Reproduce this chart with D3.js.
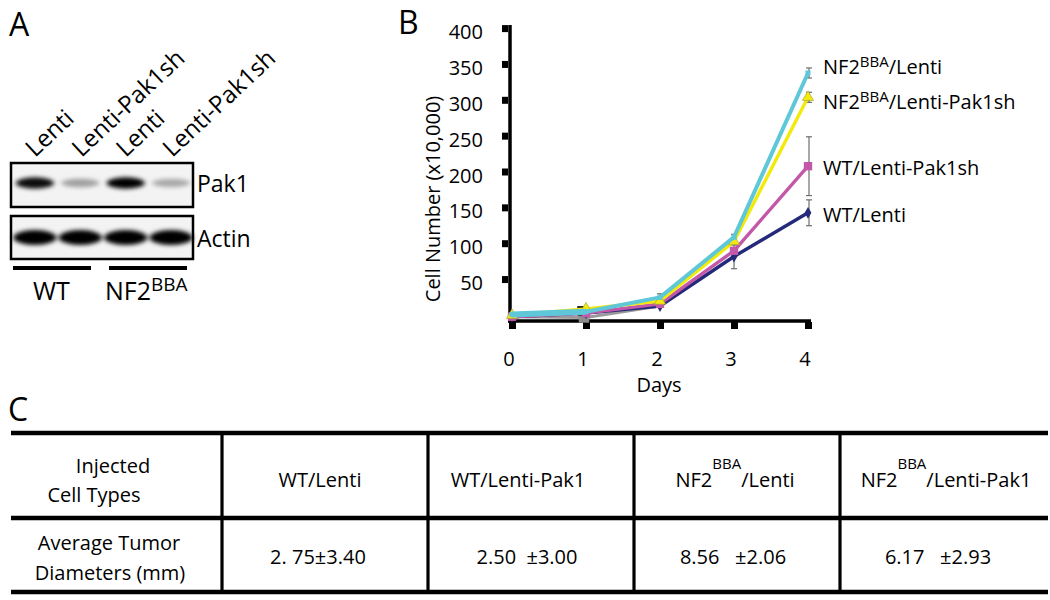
<!DOCTYPE html>
<html>
<head>
<meta charset="utf-8">
<script src="https://cdn.jsdelivr.net/npm/d3@7"></script>
<style>
  html, body { margin: 0; padding: 0; background: #fff; }
  svg { display: block; font-family: "Open Sans", "Noto Sans", sans-serif; }
</style>
</head>
<body>
<svg id="fig" width="1050" height="600"></svg>
<script>
// ---------------- DATA ----------------
// Panel A: western blot
const blotLanes = ["Lenti", "Lenti-Pak1sh", "Lenti", "Lenti-Pak1sh"];
const pak1Intensity = [0.95, 0.34, 1.0, 0.3];
const actinIntensity = [1.0, 1.0, 1.0, 1.0];
const blotRows = ["Pak1", "Actin"];
const blotGroups = ["WT", "NF2"];

// Panel B: growth curves
const days = [0, 1, 2, 3, 4];
const yTicks = [50, 100, 150, 200, 250, 300, 350, 400];
const seriesNames = ["WT/Lenti", "WT/Lenti-Pak1sh", "NF2BBA/Lenti-Pak1sh", "NF2BBA/Lenti"];
const wtLenti = [3, 8, 18, 87, 148];
const wtLentiErr = [1, 1, 2, 17, 18];
const wtPak1sh = [3, 8, 21, 95, 213];
const wtPak1shErr = [1, 1, 2, 4, 41];
const nf2Pak1sh = [5, 14, 25, 108, 309];
const nf2Pak1shErr = [1, 1, 2, 5, 7];
const nf2Lenti = [6, 10, 30, 114, 343];
const nf2LentiErr = [1, 1, 5, 4, 7];
const greyDays = [0, 1, 2];
const greyValues = [3, 2, 18];

// Panel C: table
const tableHeaders = ["WT/Lenti", "WT/Lenti-Pak1", "NF2|BBA|/Lenti", "NF2|BBA|/Lenti-Pak1"];
const tableValues = ["2. 75\u00b13.40", "2.50  \u00b13.00", "8.56   \u00b12.06", "6.17   \u00b12.93"];
const rowLabels = [["Injected", "Cell Types"], ["Average Tumor", "Diameters (mm)"]];

// ---------------- DRAW ----------------
const svg = d3.select("#fig");
const defs = svg.append("defs");
defs.append("filter").attr("id", "blur").attr("x", "-30%").attr("y", "-60%").attr("width", "160%").attr("height", "220%")
  .append("feGaussianBlur").attr("stdDeviation", "2.4 2.0");

// Panel letters
svg.append("text").attr("x", 9).attr("y", 36).attr("font-size", 32).text("A");
svg.append("text").attr("x", 398).attr("y", 34).attr("font-size", 32).text("B");
svg.append("text").attr("x", 8).attr("y", 421).attr("font-size", 32).text("C");

// ---- Panel A ----
const laneX = d3.scaleBand().domain(d3.range(blotLanes.length)).range([14, 192]).paddingInner(0.08);
const gA = svg.append("g");
// rotated lane labels
blotLanes.forEach((l, i) => {
  const x0 = laneX(i) + 21 + (i % 2 === 1 ? 1 : 0);
  gA.append("text")
    .attr("transform", `translate(${x0},158) rotate(-43)`)
    .attr("font-size", 24).text(l);
});
// boxes
const boxes = [{y: 163, h: 44, row: 0}, {y: 216, h: 43, row: 1}];
boxes.forEach(b => {
  gA.append("rect").attr("x", 11).attr("y", b.y).attr("width", 182).attr("height", b.h)
    .attr("fill", "#f3f3f3").attr("stroke", "#000").attr("stroke-width", 2.5);
});
const bandG = gA.append("g").attr("filter", "url(#blur)");
pak1Intensity.forEach((v, i) => {
  const cx = laneX(i) + laneX.bandwidth() / 2;
  bandG.append("ellipse").attr("cx", cx).attr("cy", 183).attr("rx", 19).attr("ry", v > 0.5 ? 5.8 : 4.2)
    .attr("fill", "#050505").attr("opacity", v);
});
actinIntensity.forEach((v, i) => {
  const cx = laneX(i) + laneX.bandwidth() / 2;
  bandG.append("ellipse").attr("cx", cx).attr("cy", 237.5).attr("rx", 21.5).attr("ry", 7.5)
    .attr("fill", "#030303").attr("opacity", v);
});
gA.append("text").attr("x", 197).attr("y", 192).attr("font-size", 23).text(blotRows[0]);
gA.append("text").attr("x", 197).attr("y", 247).attr("font-size", 23).text(blotRows[1]);
// group bars
gA.append("rect").attr("x", 13).attr("y", 266).attr("width", 78).attr("height", 4).attr("fill", "#000");
gA.append("rect").attr("x", 109).attr("y", 266).attr("width", 78).attr("height", 4).attr("fill", "#000");
gA.append("text").attr("x", 33).attr("y", 300).attr("font-size", 25).text(blotGroups[0]);
const nfA = gA.append("text").attr("x", 105).attr("y", 300).attr("font-size", 25);
nfA.append("tspan").text(blotGroups[1]);
nfA.append("tspan").attr("dy", -9).attr("font-size", 19).text("BBA");

// ---- Panel B ----
const x = d3.scaleLinear().domain([0, 4]).range([512, 808]);
const y = d3.scaleLinear().domain([0, 400]).range([318.9, 32.1]);
const gB = svg.append("g");

// axes
gB.append("line").attr("x1", 510).attr("x2", 510).attr("y1", 25).attr("y2", 323).attr("stroke", "#000").attr("stroke-width", 3.5);
gB.append("line").attr("x1", 508).attr("x2", 811).attr("y1", 321).attr("y2", 321).attr("stroke", "#000").attr("stroke-width", 3.5);
gB.selectAll(".yt").data(yTicks).join("rect").attr("class", "yt")
  .attr("x", 502).attr("y", d => y(d) - 7).attr("width", 6).attr("height", 7).attr("fill", "#000");
gB.selectAll(".ytl").data(yTicks).join("text").attr("class", "ytl")
  .attr("x", 483).attr("y", d => y(d) + 7).attr("text-anchor", "end").attr("font-size", 20).text(d => d);
gB.selectAll(".xt").data(days).join("rect").attr("class", "xt")
  .attr("x", d => x(d) - 3).attr("y", 322).attr("width", 7).attr("height", 7).attr("fill", "#000");
gB.selectAll(".xtl").data(days).join("text").attr("class", "xtl")
  .attr("x", d => x(d) - 3).attr("y", 366).attr("text-anchor", "middle").attr("font-size", 20).text(d => d);
gB.append("text").attr("x", 659).attr("y", 392).attr("text-anchor", "middle").attr("font-size", 20).text("Days");
gB.append("text").attr("transform", "translate(440,199) rotate(-90)").attr("text-anchor", "middle")
  .attr("font-size", 20).text("Cell Number (x10,000)");

// series
const series = [
  {name: seriesNames[0], vals: wtLenti, err: wtLentiErr, color: "#25297a", sym: d3.symbolDiamond, size: 40},
  {name: seriesNames[1], vals: wtPak1sh, err: wtPak1shErr, color: "#c357a8", sym: d3.symbolSquare, size: 70},
  {name: seriesNames[2], vals: nf2Pak1sh, err: nf2Pak1shErr, color: "#f3ea0c", sym: d3.symbolTriangle, size: 55},
  {name: seriesNames[3], vals: nf2Lenti, err: nf2LentiErr, color: "#5ec7d8", sym: d3.symbolSquare, size: 25}
];
const line = d3.line().x(d => x(d[0])).y(d => y(d[1]));

// grey underlying series
gB.append("path").datum(greyDays.map((d, i) => [d, greyValues[i]])).attr("d", line)
  .attr("fill", "none").attr("stroke", "#9a9a9a").attr("stroke-width", 3);
gB.append("path").attr("d", d3.symbol(d3.symbolSquare, 110)()).attr("transform", `translate(${x(1) - 2},${y(greyValues[1])})`).attr("fill", "#8d8d8d");
gB.append("path").attr("d", d3.symbol(d3.symbolSquare, 90)()).attr("transform", `translate(${x(1) - 4},${y(nf2Pak1sh[1]) + 2})`).attr("fill", "#111");

// error bars
const errG = gB.append("g").attr("stroke", "#6e6e6e").attr("stroke-width", 1.2);
series.forEach(s => {
  days.forEach((d, i) => {
    const e = s.err[i];
    if (e < 3) return;
    const cx = x(d) + (d === 4 ? 1 : 0);
    errG.append("line").attr("x1", cx).attr("x2", cx).attr("y1", y(s.vals[i] + e)).attr("y2", y(s.vals[i] - e));
    errG.append("line").attr("x1", cx - 3).attr("x2", cx + 3).attr("y1", y(s.vals[i] + e)).attr("y2", y(s.vals[i] + e));
    errG.append("line").attr("x1", cx - 3).attr("x2", cx + 3).attr("y1", y(s.vals[i] - e)).attr("y2", y(s.vals[i] - e));
  });
});

series.forEach((s, si) => {
  const pts = days.map((d, i) => [d, s.vals[i]]);
  gB.append("path").datum(pts).attr("d", line).attr("fill", "none")
    .attr("stroke", s.color).attr("stroke-width", si === 3 ? 4 : 3.4).attr("stroke-linejoin", "round");
  gB.selectAll(null).data(pts).join("path")
    .attr("d", d3.symbol(s.sym, s.size)())
    .attr("transform", d => `translate(${x(d[0])},${y(d[1])})`)
    .attr("fill", s.color)
    .attr("stroke", si === 2 ? "#9a9a40" : "none").attr("stroke-width", 0.6);
});
// thick cyan band over first segment
gB.append("path").datum([[0, nf2Lenti[0]], [1, nf2Lenti[1]]]).attr("d", line)
  .attr("fill", "none").attr("stroke", "#5ec7d8").attr("stroke-width", 6);

// series labels
const labelPos = [{i: 3, y: 74}, {i: 2, y: 109}, {i: 1, y: 175}, {i: 0, y: 222}];
labelPos.forEach(lp => {
  const name = seriesNames[lp.i];
  const t = gB.append("text").attr("x", 823).attr("y", lp.y).attr("font-size", 20);
  if (name.startsWith("NF2BBA")) {
    t.append("tspan").text("NF2");
    t.append("tspan").attr("dy", -7).attr("font-size", 15).text("BBA");
    t.append("tspan").attr("dy", 7).text(name.slice(6));
  } else {
    t.text(name);
  }
});

// ---- Panel C ----
const colX = [11, 222, 428, 634, 840, 1048];
const rowY = [433, 518, 592];
const gC = svg.append("g");
rowY.forEach(yy => {
  gC.append("line").attr("x1", 11).attr("x2", 1048).attr("y1", yy).attr("y2", yy).attr("stroke", "#000").attr("stroke-width", 4.5);
});
colX.slice(1, 5).forEach(xx => {
  gC.append("line").attr("x1", xx).attr("x2", xx).attr("y1", rowY[0]).attr("y2", rowY[2]).attr("stroke", "#000").attr("stroke-width", 3.2);
});
// row labels
gC.append("text").attr("x", 113).attr("y", 473).attr("text-anchor", "middle").attr("font-size", 20).text(rowLabels[0][0]);
gC.append("text").attr("x", 94).attr("y", 502).attr("text-anchor", "middle").attr("font-size", 20).text(rowLabels[0][1]);
gC.append("text").attr("x", 109).attr("y", 550).attr("text-anchor", "middle").attr("font-size", 20).text(rowLabels[1][0]);
gC.append("text").attr("x", 110).attr("y", 580).attr("text-anchor", "middle").attr("font-size", 20).text(rowLabels[1][1]);
// headers
const headerCX = [320, 518, 735, 946];
const valueCX = [318, 527, 733, 938];
tableHeaders.forEach((h, i) => {
  const t = gC.append("text").attr("x", headerCX[i]).attr("y", 487).attr("text-anchor", "middle").attr("font-size", 20);
  const parts = h.split("|");
  if (parts.length === 3) {
    t.append("tspan").text(parts[0]);
    t.append("tspan").attr("dy", -18).attr("font-size", 15).text(parts[1]);
    t.append("tspan").attr("dy", 18).text(parts[2]);
  } else {
    t.text(h);
  }
});
tableValues.forEach((v, i) => {
  gC.append("text").attr("x", valueCX[i]).attr("y", 564).attr("text-anchor", "middle")
    .attr("font-size", 20).attr("xml:space", "preserve").style("white-space", "pre").text(v);
});
</script>
</body>
</html>
